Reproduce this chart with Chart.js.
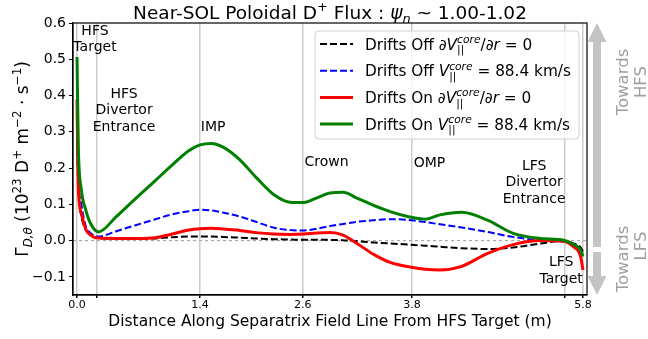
<!DOCTYPE html>
<html lang="en">
<head>
  <meta charset="utf-8" />
  <title>Near-SOL Poloidal D+ Flux</title>
  <style>
html, body { margin: 0; padding: 0; background: #fff; }
#chartBox { width: 648px; height: 339px; }
  </style>
</head>
<body>
  <div id="chartBox">
    <canvas id="myChart" width="648" height="339"></canvas>
  </div>
  <script src="https://cdn.jsdelivr.net/npm/chart.js@4"></script>
  <script>
// distance along the separatrix field line from the HFS target (m)
const distance = [0, 0.015, 0.05, 0.1, 0.15, 0.245, 0.45, 0.68, 0.9, 1.07, 1.28, 1.41, 1.54, 1.68, 1.87, 2.05, 2.25, 2.44, 2.6, 2.75, 2.9, 3.05, 3.21, 3.4, 3.59, 3.8, 3.99, 4.16, 4.41, 4.7, 5.0, 5.31, 5.58, 5.69, 5.77, 5.8];
// poloidal flux, 10^23 D+ m^-2 s^-1
const offShear = [0.28, 0.14, 0.068, 0.03, 0.016, 0.007, 0.005, 0.005, 0.006, 0.009, 0.011, 0.011, 0.011, 0.010, 0.008, 0.006, 0.004, 0.003, 0.002, 0.002, 0.002, 0.001, -0.002, -0.005, -0.008, -0.011, -0.014, -0.017, -0.021, -0.023, -0.019, -0.008, -0.001, -0.008, -0.018, -0.03];
const offRot = [0.30, 0.17, 0.10, 0.04, 0.022, 0.011, 0.026, 0.043, 0.059, 0.071, 0.081, 0.085, 0.083, 0.077, 0.066, 0.052, 0.036, 0.029, 0.028, 0.033, 0.040, 0.046, 0.052, 0.056, 0.059, 0.057, 0.051, 0.045, 0.036, 0.024, 0.01, 0.001, -0.003, -0.01, -0.022, -0.035];
const onShear = [0.39, 0.15, 0.075, 0.032, 0.016, 0.007, 0.006, 0.006, 0.008, 0.017, 0.029, 0.033, 0.034, 0.032, 0.028, 0.022, 0.018, 0.017, 0.018, 0.021, 0.022, 0.015, -0.008, -0.038, -0.060, -0.072, -0.079, -0.081, -0.071, -0.036, -0.011, 0.0, -0.002, -0.017, -0.042, -0.081];
const onRot = [0.506, 0.26, 0.14, 0.085, 0.05, 0.024, 0.066, 0.118, 0.166, 0.204, 0.248, 0.264, 0.268, 0.257, 0.222, 0.175, 0.128, 0.106, 0.105, 0.118, 0.131, 0.133, 0.117, 0.097, 0.08, 0.066, 0.059, 0.071, 0.078, 0.057, 0.02, 0.006, 0.001, -0.01, -0.025, -0.044];

// vertical guide lines (locations along the field line) and their tick text
const xLines = [0, 0.229, 1.41, 2.587, 3.84, 5.594, 5.8];
const xLineText = ['0.0', '', '1.4', '2.6', '3.8', '', '5.8'];
const yTicks = [-0.1, 0.0, 0.1, 0.2, 0.3, 0.4, 0.5, 0.6];

const regionNames = [['HFS', 'Target'], ['HFS', 'Divertor', 'Entrance'], ['IMP'], ['Crown'], ['OMP'], ['LFS', 'Divertor', 'Entrance'], ['LFS', 'Target']];
// where each region label sits, in data units (x, y of first line)
const regionAt = [[0.206, 0.578], [0.54, 0.404], [1.56, 0.313], [2.86, 0.217], [4.04, 0.214], [5.24, 0.206], [5.55, -0.061]];

const FONT = '"DejaVu Sans"';
function fnt(size, italic) { return (italic ? 'italic ' : '') + size + 'px ' + FONT; }

// very small "mathtext": pieces with sup / sub / italic
function pieceWidth(ctx, p, size) {
  if (p.sub !== undefined) {
    ctx.font = fnt(size * 0.7, false);
    const a = ctx.measureText(p.sub).width;
    ctx.font = fnt(size * 0.7, true);
    const b = ctx.measureText(p.sup).width;
    return Math.max(a, b);
  }
  ctx.font = fnt(p.s ? size * 0.7 : size, p.i);
  return ctx.measureText(p.t).width;
}
function drawRich(ctx, parts, x, y, size, align) {
  let w = 0;
  for (const p of parts) w += pieceWidth(ctx, p, size);
  let cx = x;
  if (align === 'center') cx = x - w / 2;
  ctx.textAlign = 'left';
  ctx.textBaseline = 'alphabetic';
  for (const p of parts) {
    const pw = pieceWidth(ctx, p, size);
    if (p.sub !== undefined) {
      ctx.font = fnt(size * 0.7, false);
      ctx.fillText(p.sub, cx, y + size * 0.25);
      ctx.font = fnt(size * 0.7, true);
      ctx.fillText(p.sup, cx, y - size * 0.42);
    } else {
      ctx.font = fnt(p.s ? size * 0.7 : size, p.i);
      let dy = 0;
      if (p.s === 'sup') dy = -size * 0.4;
      if (p.s === 'sub') dy = size * 0.22;
      ctx.fillText(p.t, cx, y + dy);
    }
    cx += pw;
  }
}

const legendItems = [
  { color: '#000000', dash: [7, 3], width: 2, parts: [{ t: 'Drifts Off \u2202' }, { t: 'V', i: true }, { sub: '||', sup: 'core' }, { t: '/\u2202' }, { t: 'r', i: true }, { t: ' = 0' }] },
  { color: '#0000ff', dash: [7, 3], width: 2, parts: [{ t: 'Drifts Off ' }, { t: 'V', i: true }, { sub: '||', sup: 'core' }, { t: ' = 88.4 km/s' }] },
  { color: '#ff0000', dash: [], width: 3, parts: [{ t: 'Drifts On \u2202' }, { t: 'V', i: true }, { sub: '||', sup: 'core' }, { t: '/\u2202' }, { t: 'r', i: true }, { t: ' = 0' }] },
  { color: '#008000', dash: [], width: 3, parts: [{ t: 'Drifts On ' }, { t: 'V', i: true }, { sub: '||', sup: 'core' }, { t: ' = 88.4 km/s' }] }
];

function toPoints(ys) {
  return distance.map((d, k) => ({ x: d, y: ys[k] }));
}

const extras = {
  id: 'extras',
  beforeDatasetsDraw(chart) {
    const ctx = chart.ctx, a = chart.chartArea, ys = chart.scales.y;
    const y0 = ys.getPixelForValue(0);
    ctx.save();
    ctx.strokeStyle = '#aaaaaa';
    ctx.lineWidth = 1.2;
    ctx.setLineDash([3, 3]);
    ctx.beginPath();
    ctx.moveTo(a.left, y0);
    ctx.lineTo(a.right, y0);
    ctx.stroke();
    ctx.restore();
  },
  afterDraw(chart) {
    const ctx = chart.ctx, a = chart.chartArea;
    const xs = chart.scales.x, ys = chart.scales.y;
    ctx.save();
    // frame
    ctx.strokeStyle = '#000';
    ctx.lineWidth = 1.2;
    ctx.strokeRect(a.left, a.top, a.right - a.left, a.bottom - a.top);

    ctx.fillStyle = '#000';
    // title
    drawRich(ctx, [{ t: 'Near-SOL Poloidal D' }, { t: '+', s: 'sup' }, { t: ' Flux : ' }, { t: '\u03c8', i: true }, { t: 'n', s: 'sub', i: true }, { t: ' ~ 1.00-1.02' }], (a.left + a.right) / 2, 18.5, 18.5, 'center');
    // x title
    ctx.font = fnt(15.5, false);
    ctx.textAlign = 'center';
    ctx.fillText('Distance Along Separatrix Field Line From HFS Target (m)', (a.left + a.right) / 2, 326);
    // y title
    ctx.save();
    ctx.translate(28, (a.top + a.bottom) / 2);
    ctx.rotate(-Math.PI / 2);
    drawRich(ctx, [{ t: '\u0393' }, { t: 'D,\u03b8', s: 'sub', i: true }, { t: ' (10' }, { t: '23', s: 'sup' }, { t: ' D' }, { t: '+', s: 'sup' }, { t: ' m' }, { t: '\u22122', s: 'sup' }, { t: ' \u00b7 s' }, { t: '\u22121', s: 'sup' }, { t: ')' }], 0, 0, 17, 'center');
    ctx.restore();

    // region labels
    ctx.font = fnt(14, false);
    ctx.textAlign = 'center';
    ctx.textBaseline = 'middle';
    regionNames.forEach((lines, k) => {
      const px = xs.getPixelForValue(regionAt[k][0]);
      const py = ys.getPixelForValue(regionAt[k][1]);
      lines.forEach((s, j) => ctx.fillText(s, px, py + j * 16.5));
    });

    // legend
    const lx = 315, ly = 31, lw = 264, lh = 108;
    ctx.fillStyle = 'rgba(255,255,255,0.8)';
    ctx.strokeStyle = '#d0d0d0';
    ctx.lineWidth = 1;
    ctx.beginPath();
    ctx.roundRect(lx, ly, lw, lh, 4);
    ctx.fill();
    ctx.stroke();
    legendItems.forEach((it, k) => {
      const ry = 44 + k * 26.7;
      ctx.strokeStyle = it.color;
      ctx.lineWidth = it.width;
      ctx.setLineDash(it.dash);
      ctx.beginPath();
      ctx.moveTo(320, ry);
      ctx.lineTo(353, ry);
      ctx.stroke();
      ctx.setLineDash([]);
      ctx.fillStyle = '#000';
      drawRich(ctx, it.parts, 365, ry + 5.5, 15.3, 'left');
    });

    // direction arrows on the right
    ctx.fillStyle = '#c4c4c4';
    ctx.fillRect(593, 41, 8, 206);
    ctx.beginPath();
    ctx.moveTo(587.5, 42); ctx.lineTo(606.5, 42); ctx.lineTo(597, 23); ctx.closePath();
    ctx.fill();
    ctx.fillRect(593, 252, 8, 25);
    ctx.beginPath();
    ctx.moveTo(587.5, 276); ctx.lineTo(606.5, 276); ctx.lineTo(597, 295); ctx.closePath();
    ctx.fill();

    ctx.fillStyle = '#a0a0a0';
    ctx.font = fnt(16.5, false);
    ctx.textBaseline = 'alphabetic';
    ctx.save();
    ctx.translate(628, 82);
    ctx.rotate(-Math.PI / 2);
    ctx.textAlign = 'center';
    ctx.fillText('Towards', 0, 0);
    ctx.fillText('HFS', 0, 18);
    ctx.restore();
    ctx.save();
    ctx.translate(628, 259);
    ctx.rotate(-Math.PI / 2);
    ctx.textAlign = 'center';
    ctx.fillText('Towards', 0, 0);
    ctx.fillText('LFS', 13, 18);
    ctx.restore();
    ctx.restore();
  }
};

const config = {
  type: 'line',
  data: {
    datasets: [
      { label: 'Drifts Off dV/dr = 0', data: toPoints(offShear), borderColor: '#000000', borderWidth: 2, borderDash: [7, 3], order: 4 },
      { label: 'Drifts Off V = 88.4 km/s', data: toPoints(offRot), borderColor: '#0000ff', borderWidth: 2, borderDash: [7, 3], order: 3 },
      { label: 'Drifts On dV/dr = 0', data: toPoints(onShear), borderColor: '#ff0000', borderWidth: 3, order: 2 },
      { label: 'Drifts On V = 88.4 km/s', data: toPoints(onRot), borderColor: '#008000', borderWidth: 3, order: 1 }
    ]
  },
  options: {
    responsive: false,
    animation: false,
    events: [],
    layout: { padding: { left: 0, top: 23, right: 61, bottom: 0 } },
    elements: {
      point: { radius: 0 },
      line: { cubicInterpolationMode: 'monotone', fill: false }
    },
    plugins: {
      legend: { display: false },
      title: { display: false },
      tooltip: { enabled: false }
    },
    scales: {
      x: {
        type: 'linear',
        min: -0.046,
        max: 5.846,
        afterFit(scale) { scale.height = 44; },
        afterBuildTicks(scale) { scale.ticks = xLines.map(v => ({ value: v })); },
        grid: { color: '#cccccc', lineWidth: 1.5, tickColor: '#000', tickLength: 3 },
        border: { color: '#000', width: 1.2 },
        ticks: {
          autoSkip: false,
          maxRotation: 0,
          padding: 1,
          color: '#000',
          font: { family: FONT, size: 11 },
          callback(value, index) { return xLineText[index]; }
        }
      },
      y: {
        type: 'linear',
        min: -0.15,
        max: 0.6,
        afterFit(scale) { scale.width = 73; },
        afterBuildTicks(scale) { scale.ticks = yTicks.map(v => ({ value: v })); },
        grid: { drawOnChartArea: false, tickColor: '#000', tickLength: 4 },
        border: { color: '#000', width: 1.2 },
        ticks: {
          padding: 3,
          color: '#000',
          font: { family: FONT, size: 14 },
          callback(value) { return value.toFixed(1).replace('-', '\u2212'); }
        }
      }
    }
  },
  plugins: [extras]
};

const chart = new Chart(document.getElementById('myChart'), config);
  </script>
</body>
</html>
